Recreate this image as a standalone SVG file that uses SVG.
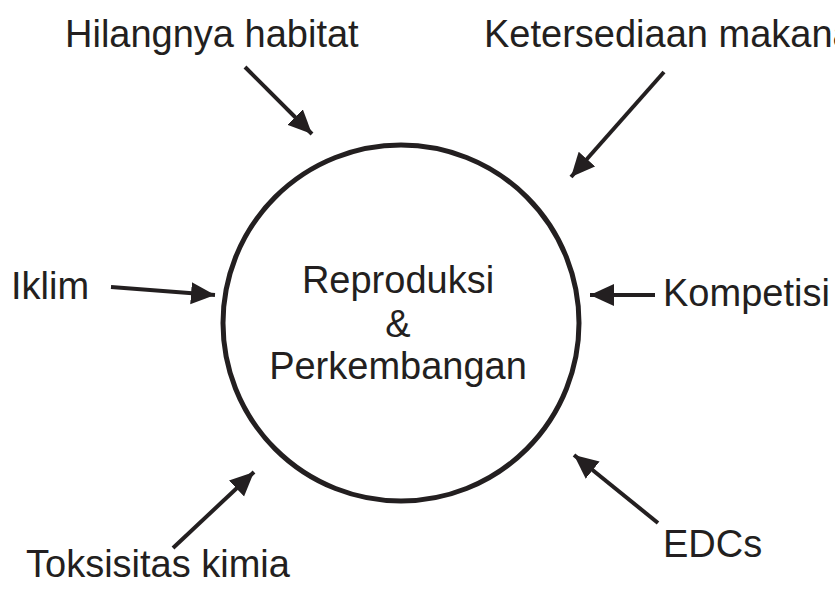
<svg xmlns="http://www.w3.org/2000/svg" width="835" height="595" viewBox="0 0 835 595">
<defs>
<style>
text{font-family:"Liberation Sans",Arial,sans-serif;font-size:38px;fill:#231f20}
.c{text-anchor:middle}
.arr{stroke:#231f20;stroke-width:4;fill:none}
</style>
<marker id="a" viewBox="0 0 24 24" refX="24" refY="12" markerWidth="24" markerHeight="24" markerUnits="userSpaceOnUse" orient="auto">
<path d="M0,1 L24,12 L0,23 z" fill="#231f20"/>
</marker>
</defs>
<rect width="835" height="595" fill="#fff"/>
<g id="center">
<circle cx="401" cy="323" r="178" fill="none" stroke="#231f20" stroke-width="5"/>
<text class="c" x="398" y="293">Reproduksi</text>
<text class="c" x="398" y="337">&amp;</text>
<text class="c" x="398" y="379">Perkembangan</text>
</g>
<g id="n-hilangnya"><text x="65" y="47">Hilangnya habitat</text></g>
<g id="n-ketersediaan"><text x="484" y="47">Ketersediaan makanan</text></g>
<g id="n-iklim"><text x="11" y="299">Iklim</text></g>
<g id="n-kompetisi"><text x="663" y="306">Kompetisi</text></g>
<g id="n-edcs"><text x="663" y="557">EDCs</text></g>
<g id="n-toksisitas"><text x="26" y="577">Toksisitas kimia</text></g>
<g id="connectors">
<line class="arr" x1="245" y1="67" x2="312" y2="134" marker-end="url(#a)"/>
<line class="arr" x1="664" y1="72" x2="571" y2="177" marker-end="url(#a)"/>
<line class="arr" x1="111" y1="287" x2="215" y2="295" marker-end="url(#a)"/>
<line class="arr" x1="655" y1="295" x2="590" y2="295" marker-end="url(#a)"/>
<line class="arr" x1="658" y1="523" x2="574" y2="455" marker-end="url(#a)"/>
<line class="arr" x1="173" y1="548" x2="254" y2="472" marker-end="url(#a)"/>
</g>
</svg>
